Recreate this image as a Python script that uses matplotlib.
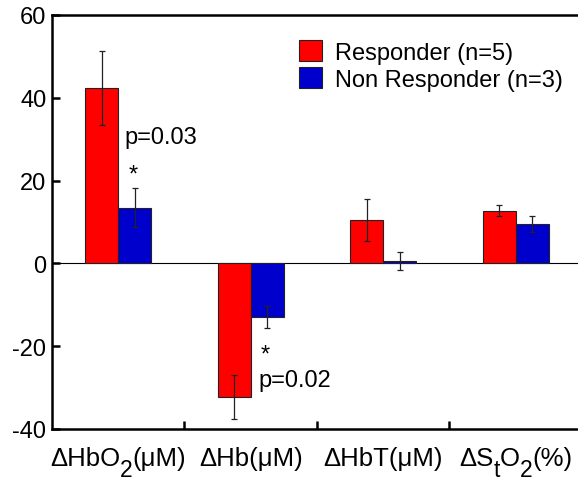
import numpy as np
import matplotlib
matplotlib.use('Agg')
import matplotlib.pyplot as plt

plt.rcParams['font.family'] = ['Liberation Sans', 'DejaVu Sans']
plt.rcParams['axes.unicode_minus'] = False

# data
categories = ['ΔHbO2(μM)', 'ΔHb(μM)', 'ΔHbT(μM)', 'ΔStO2(%)']
# same labels split into (text, is_subscript) pieces
label_parts = [
    [('ΔHbO', False), ('2', True), ('(μM)', False)],
    [('ΔHb(μM)', False)],
    [('ΔHbT(μM)', False)],
    [('ΔS', False), ('t', True), ('O', False), ('2', True), ('(%)', False)],
]
responder = [42.4, -32.3, 10.5, 12.75]
responder_err = [9.0, 5.4, 5.0, 1.25]
non_responder = [13.4, -13.0, 0.5, 9.5]
non_responder_err = [4.7, 2.7, 2.2, 2.0]

W, H = 578, 481
fig = plt.figure(figsize=(W / 100, H / 100), dpi=100)
ax = fig.add_axes([52 / W, 51 / H, 530 / W, 414 / H])

x = np.arange(len(categories))
w = 0.25
ax.axhline(0, color='black', lw=0.8, zorder=1)
ax.bar(x - w / 2, responder, w, color='#ff0000', edgecolor='#222222', lw=0.8,
       label='Responder (n=5)', zorder=2)
ax.bar(x + w / 2, non_responder, w, color='#0000cc', edgecolor='#222222', lw=0.8,
       label='Non Responder (n=3)', zorder=2)
ax.errorbar(x - w / 2, responder, yerr=responder_err, fmt='none', ecolor='#222222',
            elinewidth=0.9, capsize=2.3, capthick=0.9, zorder=3)
ax.errorbar(x + w / 2, non_responder, yerr=non_responder_err, fmt='none', ecolor='#222222',
            elinewidth=0.9, capsize=2.3, capthick=0.9, zorder=3)

# significance notes
fs = 17
ax.text(0.05, 30.5, 'p=0.03', fontsize=fs, va='center', ha='left')
ax.text(0.11, 21.5, '*', fontsize=fs, va='center', ha='center')
ax.text(1.11, -22.0, '*', fontsize=fs, va='center', ha='center')
ax.text(1.055, -28.2, 'p=0.02', fontsize=fs, va='center', ha='left')

ax.set_xlim(-0.5, 3.5)
ax.set_ylim(-40, 60)
ax.set_yticks([-40, -20, 0, 20, 40, 60])
ax.set_xticks(x)
ax.set_xticklabels([])
ax.set_xticks([0.5, 1.5, 2.5], minor=True)
ax.tick_params(axis='x', which='major', length=0)
ax.tick_params(axis='x', which='minor', direction='in', length=6, width=1.8)
ax.tick_params(axis='y', direction='in', length=6, width=1.8, pad=4, labelsize=fs)

for side in ['left', 'top', 'bottom']:
    ax.spines[side].set_linewidth(1.8)
ax.spines['right'].set_visible(False)

ax.legend(loc='upper left', bbox_to_anchor=(0.448, 0.962), frameon=False, fontsize=fs,
          handlelength=0.98, handleheight=0.98, handletextpad=0.55, labelspacing=0.15,
          borderaxespad=0)

# x labels with nearly full-size lowered subscripts, built piece by piece
renderer = fig.canvas.get_renderer()
base_y = (H - 466) / H
sub_drop = 11 / H
for xi, parts in zip(x, label_parts):
    texts = []
    for s, sub in parts:
        t = fig.text(0, base_y - (sub_drop if sub else 0), s,
                     fontsize=16.5 if sub else 18.5, va='baseline', ha='left')
        texts.append(t)
    widths = [t.get_window_extent(renderer).width for t in texts]
    cx = ax.transData.transform((xi, 0))[0]
    pos = cx - sum(widths) / 2
    for t, wd in zip(texts, widths):
        t.set_x(pos / W)
        pos += wd

fig.savefig('out.png', dpi=100)
